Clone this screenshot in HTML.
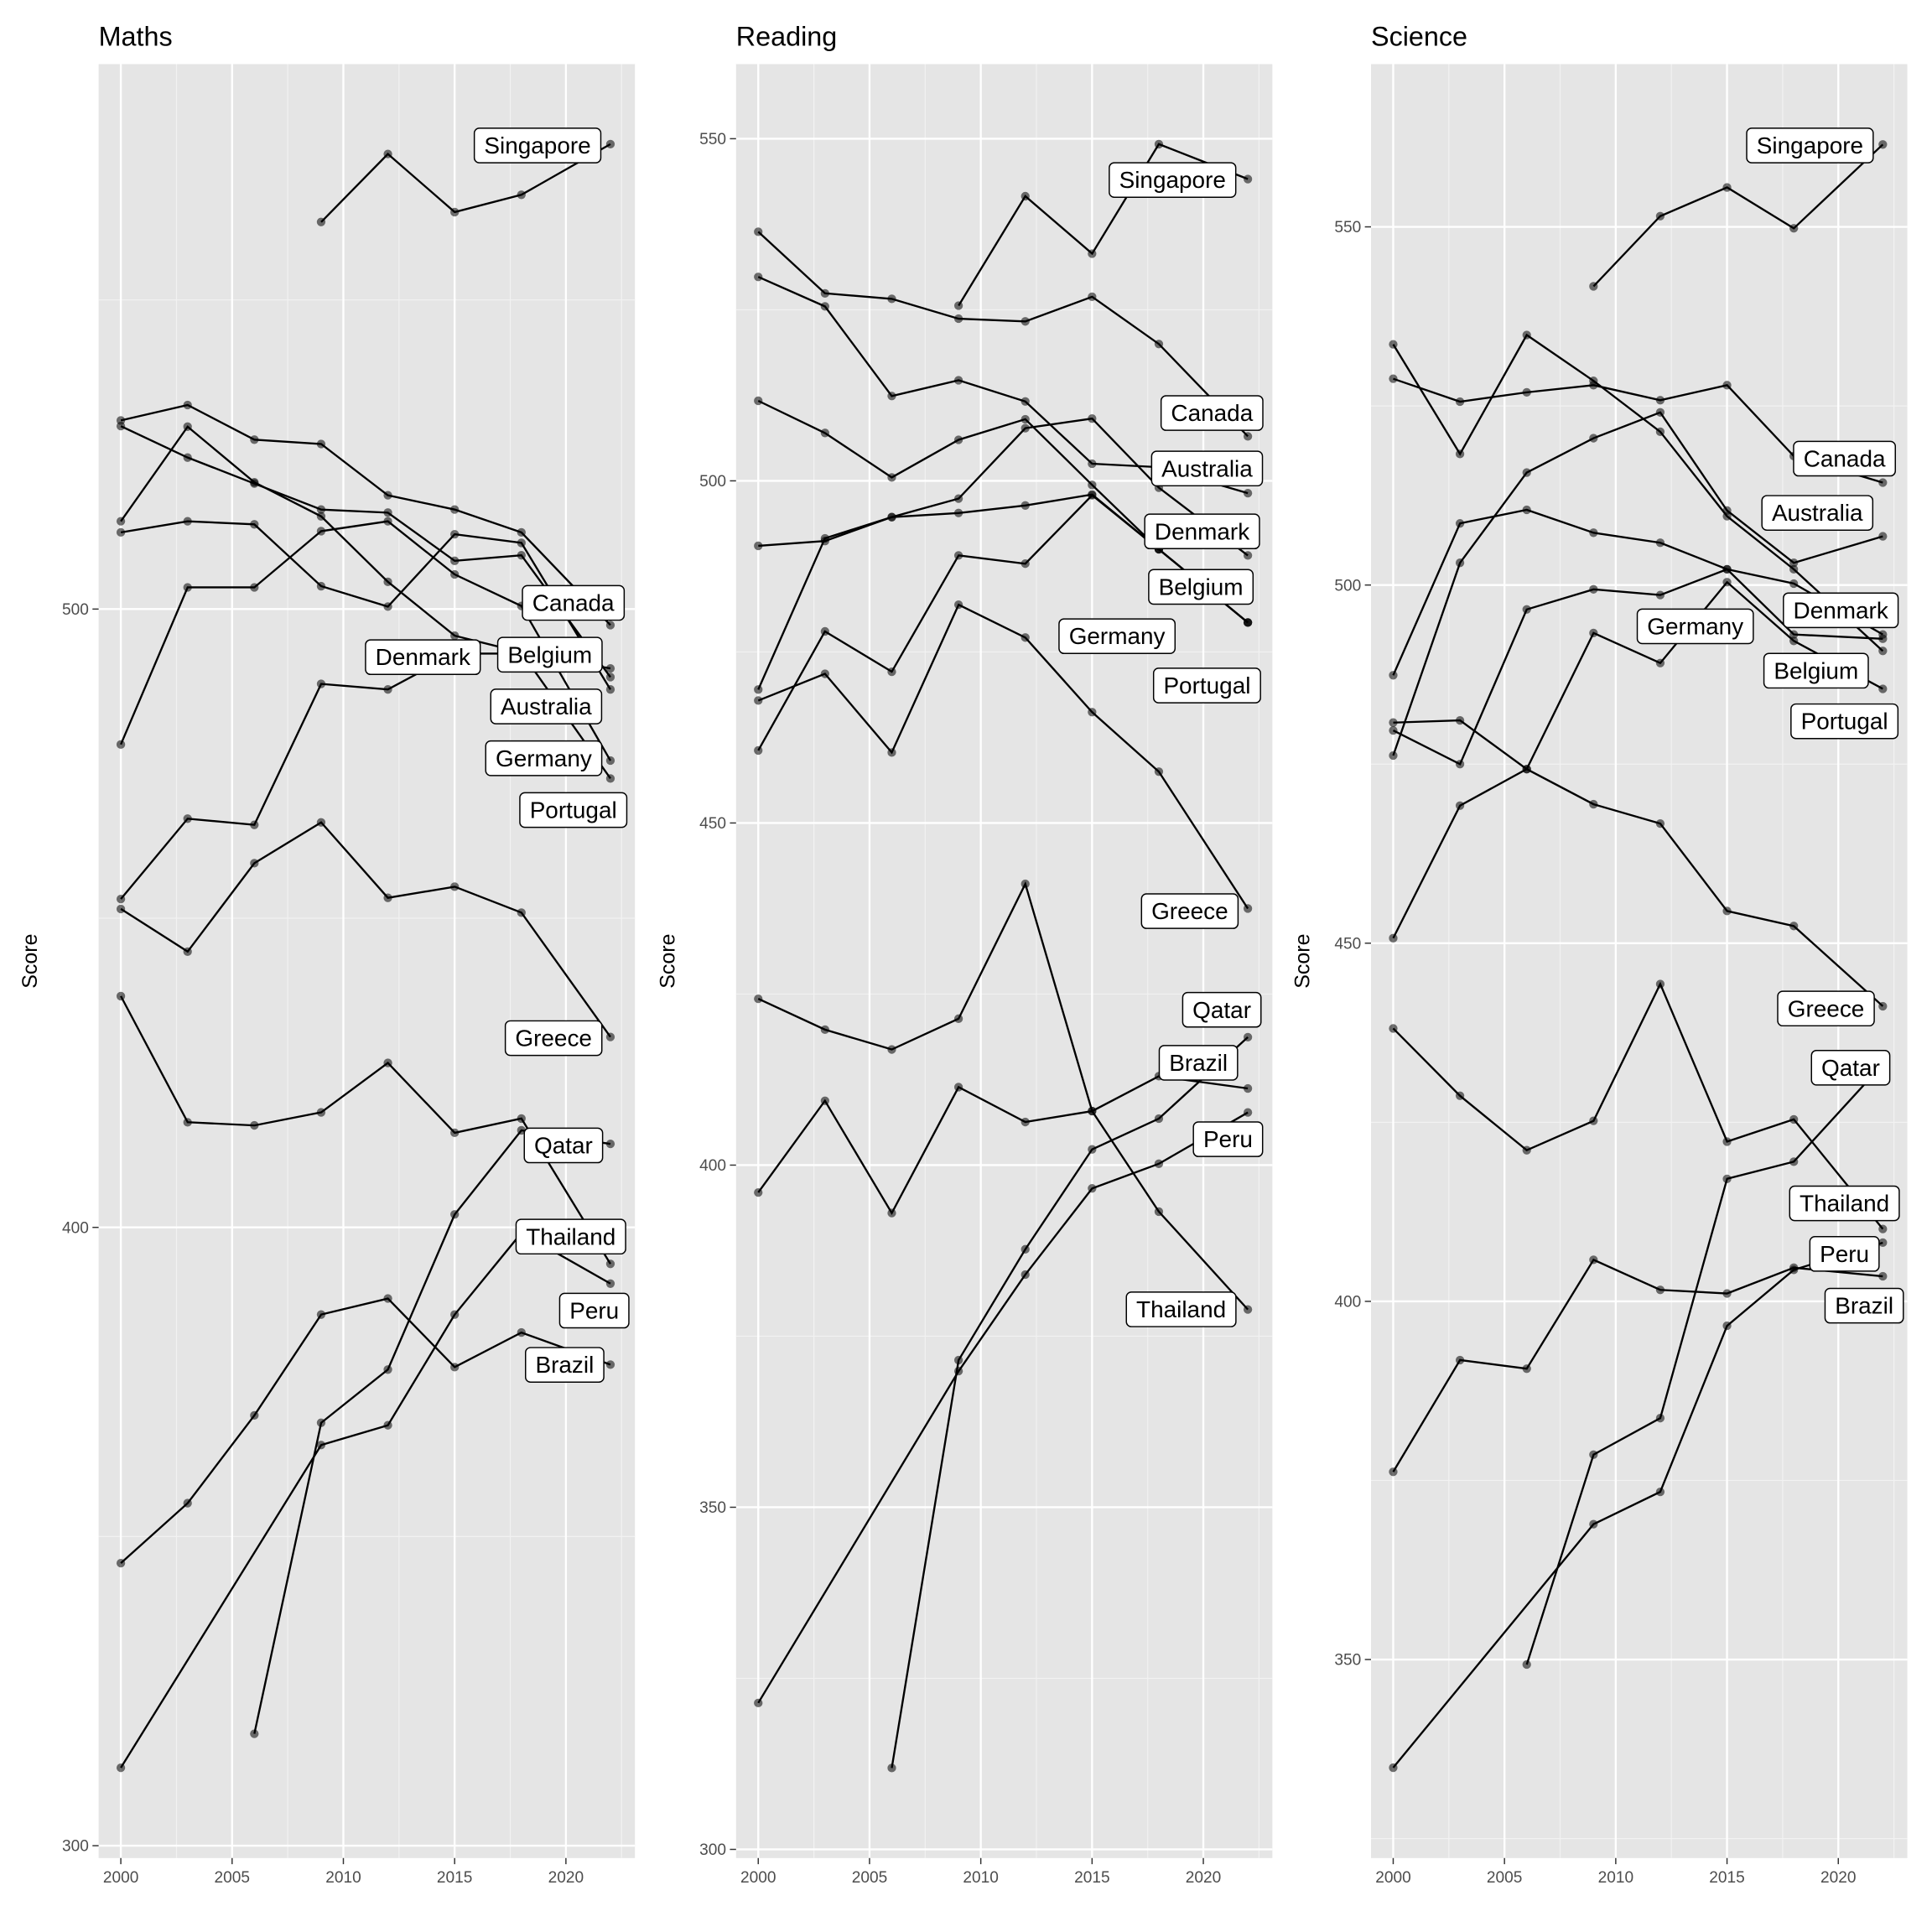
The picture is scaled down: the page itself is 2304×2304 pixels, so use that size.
<!DOCTYPE html>
<html><head><meta charset="utf-8"><style>
html,body{margin:0;padding:0;background:#fff}
svg{display:block}
text{font-family:"Liberation Sans",Arial,sans-serif}
</style></head><body>
<svg id="chart" width="2304" height="2304" viewBox="0 0 1567 1567" xmlns="http://www.w3.org/2000/svg"></svg>
<script>
const years = [2000,2003,2006,2009,2012,2015,2018,2022];
// Maths
const mathsCountries = ["Singapore","Canada","Belgium","Denmark","Australia","Germany","Portugal","Greece","Thailand","Qatar","Peru","Brazil"];
const mathsSingapore = [null,null,null,562.6,573.6,564.2,567.0,575.2];
const mathsCanada = [530.5,533,527.4,526.7,518.4,516.1,512.4,497.4];
const mathsBelgium = [529.6,524.5,520.3,516.1,515.6,507.8,508.7,489];
const mathsDenmark = [512.4,514.2,513.7,503.7,500.4,512.1,510.7,487];
const mathsAustralia = [514.2,529.5,520.5,515,504.4,495.7,493,472.6];
const mathsGermany = [478.1,503.5,503.5,512.6,514.2,505.6,500.5,475.5];
const mathsPortugal = [453.1,466.1,465.1,487.9,487,492.8,492.8,490.4];
const mathsGreece = [451.5,444.6,458.9,465.5,453.3,455.1,450.9,430.8];
const mathsThailand = [437.4,417,416.5,418.6,426.6,415.3,417.6,394.1];
const mathsQatar = [null,null,318.1,368.4,377,402.1,415.7,413.5];
const mathsPeru = [312.6,null,null,364.8,368,385.9,399.1,390.9];
const mathsBrazil = [345.7,355.4,369.6,385.9,388.5,377.4,383,377.8];
// Reading
const readingCountries = ["Singapore","Canada","Australia","Denmark","Belgium","Germany","Portugal","Greece","Thailand","Brazil","Qatar","Peru"];
const readingSingapore = [null,null,null,525.6,541.6,533.2,549.2,544.1];
const readingCanada = [536.4,527.4,526.6,523.7,523.3,526.9,520,506.5];
const readingAustralia = [529.8,525.5,512.4,514.7,511.6,502.5,502,498.2];
const readingDenmark = [511.7,507,500.5,506,509,499.4,490,479.3];
const readingBelgium = [469.5,491.6,494.7,497.4,507.7,509.1,499,489.1];
const readingGermany = [490.5,491.2,494.7,495.3,496.4,498,490,479.3];
const readingPortugal = [460.6,478,472.1,489.1,487.9,497.9,490,479.3];
const readingGreece = [467.9,471.8,460.3,481.9,477.1,466.2,457.5,437.5];
const readingThailand = [424.3,419.8,416.9,421.4,441.1,407.9,393.2,378.9];
const readingBrazil = [396,409.4,393,411.4,406.3,407.9,413,411.2];
const readingQatar = [null,null,311.9,371.5,387.7,402.3,406.8,418.7];
const readingPeru = [321.4,null,null,369.9,384,396.6,400.2,407.7];
// Science
const scienceCountries = ["Singapore","Canada","Australia","Denmark","Belgium","Germany","Portugal","Greece","Thailand","Qatar","Brazil","Peru"];
const scienceSingapore = [null,null,null,541.7,551.5,555.5,549.8,561.5];
const scienceCanada = [528.8,525.6,526.9,527.9,525.8,527.9,518,514.3];
const scienceAustralia = [533.6,518.3,534.9,528.5,521.4,509.6,502.2,490.8];
const scienceDenmark = [487.4,508.6,510.5,507.3,505.9,502.2,500.2,493.1];
const scienceBelgium = [476.2,503.1,515.7,520.5,524.1,510.4,503.1,506.8];
const scienceGermany = [479.7,475,496.6,499.4,498.6,502.2,493.1,492.5];
const sciencePortugal = [450.7,469.2,474.3,493.3,489.1,500.4,492.2,485.5];
const scienceGreece = [480.8,481.1,474.3,469.4,466.7,454.5,452.4,441.2];
const scienceThailand = [438.1,428.7,421.1,425.2,444.3,422.3,425.4,410.1];
const scienceQatar = [null,null,349.3,378.6,383.7,417.1,419.5,433.1];
const scienceBrazil = [376.2,391.8,390.6,405.8,401.6,401.1,404.7,403.5];
const sciencePeru = [334.9,null,null,368.9,373.4,396.6,404.4,408.2];
// tick labels
const xTicks = [2000,2005,2010,2015,2020];
const mathsYTicks = [300,400,500];
const readingYTicks = [300,350,400,450,500,550];
const scienceYTicks = [350,400,450,500,550];

const NS="http://www.w3.org/2000/svg";
const svg=document.getElementById('chart');
function mk(tag,attrs,parent){const e=document.createElementNS(NS,tag);for(const k in attrs)e.setAttribute(k,attrs[k]);(parent||svg).appendChild(e);return e;}

const panels=[
 {title:"Maths",left:80,vmin:300,ppu:5.015,y0:1497,yTicks:mathsYTicks,minorStep:100,
  series:[mathsSingapore,mathsCanada,mathsBelgium,mathsDenmark,mathsAustralia,mathsGermany,mathsPortugal,mathsGreece,mathsThailand,mathsQatar,mathsPeru,mathsBrazil],
  labels:[["Singapore",436,118],["Canada",465,489],["Denmark",343,533],["Belgium",446,531],["Australia",443,573],["Germany",441,615],["Portugal",465,657],["Greece",449,842],["Qatar",457,929],["Thailand",463,1003],["Peru",482,1063],["Brazil",458,1107]]},
 {title:"Reading",left:597,vmin:300,ppu:5.55,y0:1500,yTicks:readingYTicks,minorStep:50,
  series:[readingSingapore,readingCanada,readingAustralia,readingDenmark,readingBelgium,readingGermany,readingPortugal,readingGreece,readingThailand,readingBrazil,readingQatar,readingPeru],
  labels:[["Singapore",951,146],["Canada",983,335],["Australia",979,380],["Denmark",975,431],["Belgium",974,476],["Germany",906,516],["Portugal",979,556],["Greece",965,739],["Qatar",991,819],["Brazil",972,862],["Peru",996,924],["Thailand",958,1062]]},
 {title:"Science",left:1112,vmin:350,ppu:5.81,y0:1346,yTicks:scienceYTicks,minorStep:50,
  series:[scienceSingapore,scienceCanada,scienceAustralia,scienceDenmark,scienceBelgium,scienceGermany,sciencePortugal,scienceGreece,scienceThailand,scienceQatar,scienceBrazil,sciencePeru],
  labels:[["Singapore",1468,118],["Canada",1496,372],["Australia",1474,416],["Denmark",1493,495],["Germany",1375,508],["Belgium",1473,544],["Portugal",1496,585],["Greece",1481,818],["Qatar",1501,866],["Thailand",1496,976],["Peru",1496,1017],["Brazil",1512,1059]]}
];
const TOP=52,BOT=1507,W=435;

panels.forEach((p,pi)=>{
 const g=mk('g',{});
 
 
 const xs=yr=>p.left+18+(yr-2000)*18.05;
 const ys=v=>p.y0-(v-p.vmin)*p.ppu;
 const bg=mk('rect',{x:p.left,y:TOP,width:W,height:BOT-TOP,fill:'#e5e5e5'},g);
 
 
 const st=p.minorStep;
 const minorVals=[];
 for(let v=p.vmin-st/2; v<650; v+=st){const y=ys(v);if(y>TOP&&y<BOT)minorVals.push(v);}
 minorVals.forEach(v=>{const l=mk('line',{x1:p.left,x2:p.left+W,y1:ys(v),y2:ys(v),stroke:'#f2f2f2','stroke-width':0.8},g);
  });
 for(let yr=2002.5;yr<2024;yr+=5){const x=xs(yr);if(x<p.left+W){const l=mk('line',{x1:x,x2:x,y1:TOP,y2:BOT,stroke:'#f2f2f2','stroke-width':0.8},g);
  }}
 const yt=[];for(let v=p.vmin-st*2; v<650; v+=st){const y=ys(v);if(y>TOP&&y<BOT)yt.push(v);}
 yt.forEach(v=>{const l=mk('line',{x1:p.left,x2:p.left+W,y1:ys(v),y2:ys(v),stroke:'#fff','stroke-width':1.6},g);
  });
 xTicks.forEach(yr=>{const x=xs(yr);const l=mk('line',{x1:x,x2:x,y1:TOP,y2:BOT,stroke:'#fff','stroke-width':1.6},g);
  
  const t=mk('line',{x1:x,x2:x,y1:BOT,y2:BOT+5,stroke:'#333','stroke-width':1},g);
  
  const tx=mk('text',{x:x,y:BOT+20,'font-size':13,fill:'#4d4d4d','text-anchor':'middle'},g);tx.textContent=yr;
  });
 p.yTicks.forEach(v=>{const y=ys(v);
  const t=mk('line',{x1:p.left-5,x2:p.left,y1:y,y2:y,stroke:'#333','stroke-width':1},g);
  
  const tx=mk('text',{x:p.left-8,y:y+4.5,'font-size':13,fill:'#4d4d4d','text-anchor':'end'},g);tx.textContent=v;
  });
 const ttl=mk('text',{x:p.left,y:37,'font-size':22,fill:'#000'},g);ttl.textContent=p.title;
 
 const yl=mk('text',{x:0,y:0,'font-size':17,fill:'#000','text-anchor':'middle',transform:`translate(${p.left-50},${(TOP+BOT)/2}) rotate(-90)`},g);yl.textContent="Score";
 
 p.series.forEach((s,si)=>{
  let d='';let started=false;
  s.forEach((v,i)=>{if(v==null)return;d+=(started?'L':'M')+xs(years[i]).toFixed(1)+','+ys(v).toFixed(1);started=true;});
  const path=mk('path',{d:d,fill:'none',stroke:'#000','stroke-width':1.6},g);
  
  
  s.forEach((v,i)=>{if(v==null)return;
   const c=mk('circle',{cx:xs(years[i]),cy:ys(v),r:3.5,fill:'rgba(0,0,0,0.55)'},g);
   
   });
 });
 p.labels.forEach(([name,cx,cy])=>{
  const lg=mk('g',{},g);
  
  
  const r=mk('rect',{x:cx,y:cy-14,width:10,height:28,rx:4,fill:'#fff',stroke:'#000','stroke-width':1},lg);
  const t=mk('text',{x:cx,y:cy+6.5,'font-size':19,'text-anchor':'middle',fill:'#000'},lg);t.textContent=name;
  const w=t.getComputedTextLength()+16;
  r.setAttribute('x',cx-w/2);r.setAttribute('width',w);
 });
});
</script>
</body></html>
